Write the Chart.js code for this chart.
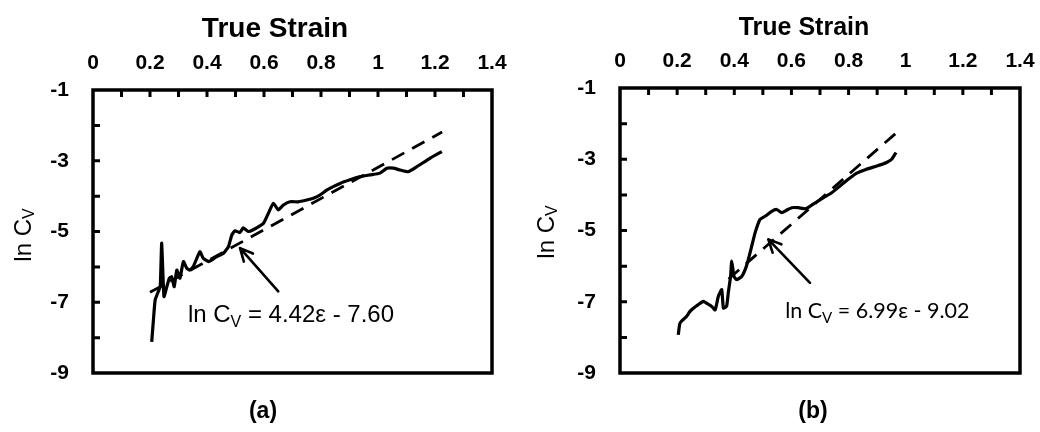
<!DOCTYPE html>
<html>
<head>
<meta charset="utf-8">
<script src="https://cdn.jsdelivr.net/npm/chart.js@4.4.1/dist/chart.umd.min.js"></script>
<style>
    html, body { margin: 0; padding: 0; background: #fff; }
    #wrap { position: relative; width: 1040px; height: 432px; }
    .painel { position: absolute; top: 0; width: 520px; height: 432px; }
    .rot { position: absolute; top: 397px; width: 60px; text-align: center;
           font: bold 23px "Liberation Sans", Arial, sans-serif; color: #000; }
</style>
</head>
<body>
<div id="wrap">
    <div class="painel" style="left:0"><canvas id="chart-a" width="520" height="432"></canvas></div>
    <div class="painel" style="left:520px"><canvas id="chart-b" width="520" height="432"></canvas></div>
    <div class="rot" style="left:233px">(a)</div>
    <div class="rot" style="left:783px">(b)</div>
</div>
<script>
// (a) curva medida
const deformacaoA = [0.206, 0.212, 0.218, 0.229, 0.236, 0.241, 0.249, 0.259, 0.268, 0.276, 0.285, 0.294, 0.305,
    0.317, 0.329, 0.340, 0.352, 0.375, 0.387, 0.405, 0.416, 0.434, 0.457, 0.475, 0.487, 0.498, 0.515, 0.527,
    0.545, 0.562, 0.598, 0.615, 0.633, 0.650, 0.668, 0.691, 0.720, 0.750, 0.773, 0.796, 0.820, 0.843, 0.867,
    0.902, 0.937, 0.972, 1.007, 1.031, 1.054, 1.077, 1.106, 1.136, 1.182, 1.224];
const lnCvA = [-8.12, -7.50, -6.94, -6.70, -6.55, -5.33, -6.84, -6.56, -6.32, -6.28, -6.56, -6.09, -6.32,
    -5.85, -6.04, -6.09, -5.99, -5.57, -5.76, -5.85, -5.81, -5.71, -5.62, -5.43, -5.10, -4.98, -5.03, -4.90,
    -5.00, -4.95, -4.77, -4.49, -4.20, -4.39, -4.25, -4.16, -4.16, -4.11, -4.06, -3.97, -3.83, -3.73, -3.64,
    -3.54, -3.45, -3.40, -3.35, -3.21, -3.21, -3.26, -3.31, -3.17, -2.93, -2.74];
// (a) reta ajustada (extremos lidos)
const ajusteXA = [0.20, 1.225];
const ajusteYA = [-6.72, -2.19];

// (b) curva medida
const deformacaoB = [0.204, 0.210, 0.233, 0.245, 0.257, 0.274, 0.292, 0.303, 0.321, 0.333, 0.344, 0.356,
    0.362, 0.373, 0.379, 0.387, 0.391, 0.399, 0.408, 0.426, 0.438, 0.449, 0.461, 0.473, 0.490, 0.508, 0.531,
    0.548, 0.566, 0.583, 0.601, 0.624, 0.648, 0.665, 0.688, 0.712, 0.741, 0.770, 0.799, 0.829, 0.863, 0.899,
    0.933, 0.951, 0.966];
const lnCvB = [-7.93, -7.60, -7.41, -7.27, -7.18, -7.08, -6.99, -7.04, -7.13, -7.23, -6.85, -6.66,
    -7.18, -7.13, -6.75, -6.29, -5.86, -6.29, -6.38, -6.29, -6.10, -5.82, -5.44, -5.06, -4.69, -4.60, -4.46,
    -4.41, -4.50, -4.43, -4.36, -4.36, -4.39, -4.32, -4.20, -4.08, -3.94, -3.75, -3.56, -3.39, -3.28, -3.19,
    -3.09, -3.00, -2.81];
const ajusteXB = [0.38, 0.97];
const ajusteYB = [-6.36, -2.24];

// eixos
const eixoX = { min: 0, max: 1.4, passo: 0.1 };
const eixoY = { min: -9, max: -1, passo: 1 };

const FONTE = '"Liberation Sans", Arial, sans-serif';
Chart.defaults.font.family = FONTE;
Chart.defaults.color = '#000';

const pontos = (xs, ys) => xs.map((x, i) => ({ x, y: ys[i] }));

function escreverPartes(ctx, partes, x, y) {
    let px = x;
    partes.forEach(p => {
        ctx.font = p.font;
        ctx.fillText(p.t, px, y + (p.dy || 0));
        px += ctx.measureText(p.t).width;
    });
}

function larguraPartes(ctx, partes) {
    return partes.reduce((s, p) => { ctx.font = p.font; return s + ctx.measureText(p.t).width; }, 0);
}

const moldura = {
    id: 'moldura',
    afterDraw(chart, args, o) {
        const { ctx, chartArea: a, scales: { x, y } } = chart;
        ctx.save();
        ctx.strokeStyle = '#000';
        ctx.fillStyle = '#000';

        // marcas para dentro
        ctx.lineWidth = 3;
        ctx.beginPath();
        x.ticks.forEach(t => {
            const px = x.getPixelForValue(t.value);
            if (px > a.left + 3 && px < a.right - 3) { ctx.moveTo(px, a.top); ctx.lineTo(px, a.top + 7); }
        });
        y.ticks.forEach(t => {
            const py = y.getPixelForValue(t.value);
            if (py > a.top + 3 && py < a.bottom - 3) { ctx.moveTo(a.left, py); ctx.lineTo(a.left + 7, py); }
        });
        ctx.stroke();

        ctx.lineWidth = 3.5;
        ctx.strokeRect(a.left, a.top, a.right - a.left, a.bottom - a.top);

        // titulo do eixo x
        ctx.textAlign = 'center';
        ctx.textBaseline = 'alphabetic';
        ctx.font = o.tituloFonte;
        ctx.fillText('True Strain', o.tituloX, o.tituloY);

        // titulo do eixo y: ln C_V
        const partesY = [
            { t: 'ln C', font: '24px ' + FONTE },
            { t: 'V', font: '16px ' + FONTE, dy: 6 }
        ];
        ctx.save();
        ctx.translate(o.eixoYX, o.eixoYY);
        ctx.rotate(-Math.PI / 2);
        ctx.textAlign = 'left';
        ctx.textBaseline = 'middle';
        escreverPartes(ctx, partesY, -larguraPartes(ctx, partesY) / 2, 0);
        ctx.restore();

        // equacao
        ctx.textAlign = 'left';
        ctx.textBaseline = 'middle';
        const partesEq = [
            { t: 'ln C', font: o.eqFonte },
            { t: 'V', font: o.eqFonteSub, dy: 7 },
            { t: o.eqTexto, font: o.eqFonte }
        ];
        escreverPartes(ctx, partesEq, x.getPixelForValue(o.eqPos[0]), y.getPixelForValue(o.eqPos[1]));

        // seta
        const x0 = x.getPixelForValue(o.seta[0]), y0 = y.getPixelForValue(o.seta[1]);
        const x1 = x.getPixelForValue(o.seta[2]), y1 = y.getPixelForValue(o.seta[3]);
        const ang = Math.atan2(y1 - y0, x1 - x0);
        ctx.lineWidth = 2.6;
        ctx.lineCap = 'round';
        ctx.beginPath();
        ctx.moveTo(x0, y0);
        ctx.lineTo(x1, y1);
        [0.45, -0.45].forEach(d => {
            ctx.moveTo(x1, y1);
            ctx.lineTo(x1 - 14 * Math.cos(ang + d), y1 - 14 * Math.sin(ang + d));
        });
        ctx.stroke();
        ctx.restore();
    }
};

function criarGrafico(id, dx, dy, ax, ay, cfg) {
    return new Chart(document.getElementById(id), {
        type: 'scatter',
        data: {
            datasets: [{
                data: pontos(dx, dy),
                showLine: true,
                borderColor: '#000',
                borderWidth: 3.2,
                pointRadius: 0,
                tension: 0.15
            }, {
                data: pontos(ax, ay),
                showLine: true,
                borderColor: '#000',
                borderWidth: 2.8,
                borderDash: [14, 9],
                pointRadius: 0
            }]
        },
        options: {
            responsive: false,
            animation: false,
            layout: { padding: { left: 0, top: 0, right: cfg.padDir, bottom: 59 } },
            plugins: {
                legend: { display: false },
                tooltip: { enabled: false },
                moldura: cfg.moldura
            },
            scales: {
                x: {
                    type: 'linear',
                    position: 'top',
                    min: eixoX.min, max: eixoX.max,
                    grid: { display: false, drawTicks: false },
                    border: { display: false },
                    ticks: {
                        stepSize: eixoX.passo,
                        autoSkip: false,
                        maxRotation: 0,
                        padding: 14,
                        font: { size: 21, weight: 'bold' },
                        callback: v => Math.round(v * 10) % 2 === 0 ? String(Number(v.toFixed(1))) : ''
                    },
                    afterFit: s => { s.height = cfg.topo; s.paddingLeft = 0; s.paddingRight = 0; }
                },
                y: {
                    min: eixoY.min, max: eixoY.max,
                    grid: { display: false, drawTicks: false },
                    border: { display: false },
                    ticks: {
                        stepSize: eixoY.passo,
                        autoSkip: false,
                        padding: 24,
                        font: { size: 21, weight: 'bold' },
                        callback: v => Math.abs(Math.round(v)) % 2 === 1 ? String(v) : ''
                    },
                    afterFit: s => { s.width = cfg.esq; s.paddingTop = 0; s.paddingBottom = 0; }
                }
            }
        },
        plugins: [moldura]
    });
}

criarGrafico('chart-a', deformacaoA, lnCvA, ajusteXA, ajusteYA, {
    esq: 93, topo: 90, padDir: 28,
    moldura: {
        tituloX: 275, tituloY: 37, tituloFonte: 'bold 28px ' + FONTE,
        eixoYX: 24, eixoYY: 235,
        eqFonte: '24px ' + FONTE, eqFonteSub: '16px ' + FONTE,
        eqTexto: ' = 4.42\u03b5 - 7.60', eqPos: [0.333, -7.38],
        seta: [0.650, -6.69, 0.516, -5.47]
    }
});

criarGrafico('chart-b', deformacaoB, lnCvB, ajusteXB, ajusteYB, {
    esq: 100, topo: 88, padDir: 20,
    moldura: {
        tituloX: 284, tituloY: 35, tituloFonte: 'bold 25px ' + FONTE,
        eixoYX: 27, eixoYY: 232,
        eqFonte: '21.5px Lato, "Open Sans", sans-serif', eqFonteSub: '15px Lato, "Open Sans", sans-serif',
        eqTexto: ' = 6.99\u03b5 - 9.02', eqPos: [0.578, -7.25],
        seta: [0.665, -6.47, 0.519, -5.25]
    }
});
</script>
</body>
</html>
